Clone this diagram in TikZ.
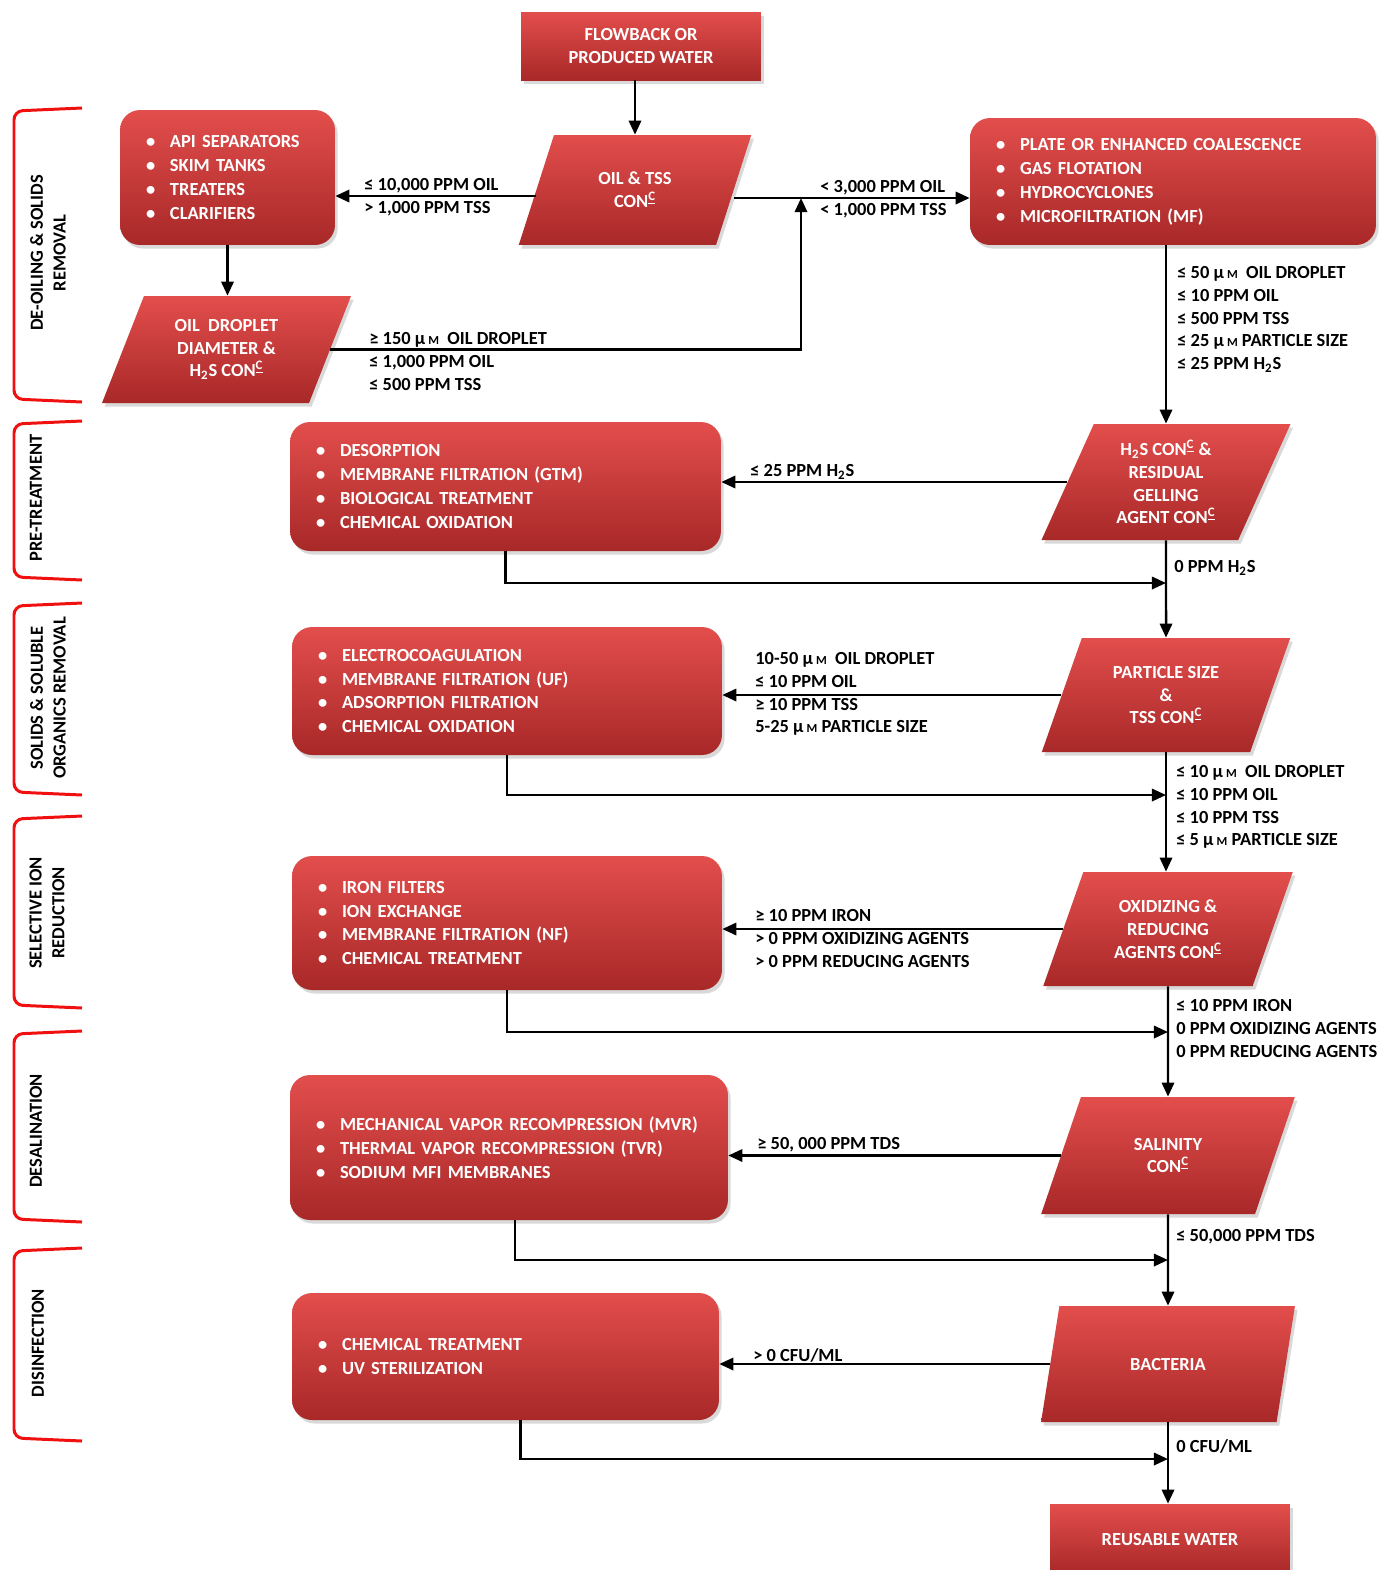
\documentclass[tikz,border=0pt]{standalone}
\usepackage{fontspec}
\setmainfont{Carlito}
\usepackage{xcolor}
\definecolor{boxtop}{RGB}{226,78,76}
\definecolor{boxbot}{RGB}{168,40,40}
\definecolor{bracered}{RGB}{240,16,16}
\usepackage{tikz}
\usetikzlibrary{positioning,arrows.meta,shapes.geometric,shadows,calc}

\newcommand{\conc}{CON\textsuperscript{\underline{C}}}
\newcommand{\um}{μ\,{\scriptsize M}}
\newcommand{\hts}{H\textsubscript{2}S}
\newcommand{\blt}{\makebox[0.48cm][l]{\textbullet}}

\begin{document}
\begin{tikzpicture}[x=0.02cm,y=-0.02cm,
  font=\bfseries\fontsize{10.5}{13}\selectfont,
  redbox/.style={rectangle,top color=boxtop,bottom color=boxbot,text=white,align=center,
    drop shadow={opacity=0.3,shadow xshift=1.5pt,shadow yshift=-2pt}},
  listbox/.style={redbox,rounded corners=0.4cm,align=left,inner xsep=0.52cm,
    font=\bfseries\fontsize{10.5}{13.6}\selectfont},
  databox/.style={redbox,shape=trapezium,trapezium left angle=67,trapezium right angle=113,
    trapezium stretches=true,inner sep=1pt},
  lbl/.style={anchor=north west,align=left,inner sep=0pt},
  flow/.style={line width=1.4pt,-{Triangle[length=8pt,width=7pt]}},
  brk/.style={bracered,line width=1.7pt,rounded corners=5pt},
  brklbl/.style={rotate=90,align=center}]
\useasboundingbox (0,0) rectangle (1398,1570);

% stages on the left
\foreach \t/\b in {108/402,421/580,603/795,816/1008,1031/1222,1248/1441}
  \draw[brk] (82,\t) -- (14,\t+3) -- (14,\b-3) -- (82,\b);
\node[brklbl] (s1) at (48,253) {DE-OILING \& SOLIDS\\REMOVAL};
\node[brklbl] (s2) at (36,498) {PRE-TREATMENT};
\node[brklbl] (s3) at (48,698) {SOLIDS \& SOLUBLE\\ORGANICS REMOVAL};
\node[brklbl] (s4) at (47,913) {SELECTIVE ION\\REDUCTION};
\node[brklbl] (s5) at (36,1131) {DESALINATION};
\node[brklbl] (s6) at (38,1343) {DISINFECTION};

% boxes
\node[redbox,minimum width=4.8cm,minimum height=1.36cm] (src) at (641,46) {FLOWBACK OR\\PRODUCED WATER};
\node[databox,minimum width=4.68cm,minimum height=2.2cm] (oiltss) at (635,190) {OIL \& TSS\\\conc};
\node[listbox,text width=3.26cm,minimum height=2.7cm] (api) at (227.5,177.5)
  {\blt API SEPARATORS\\\blt SKIM TANKS\\\blt TREATERS\\\blt CLARIFIERS};
\node[listbox,text width=7.08cm,minimum height=2.54cm] (plate) at (1173,181.5)
  {\blt PLATE OR ENHANCED COALESCENCE\\\blt GAS FLOTATION\\\blt HYDROCYCLONES\\\blt MICROFILTRATION (MF)};
\node[databox,minimum width=5.02cm,minimum height=2.14cm] (drop) at (226.5,349.5) {OIL\ \ DROPLET\\DIAMETER \&\\\hts\ \conc};
\node[databox,minimum width=5cm,minimum height=2.32cm] (h2s) at (1166,482) {\hts\ \conc\ \&\\RESIDUAL\\GELLING\\AGENT \conc};
\node[listbox,text width=7.58cm,minimum height=2.58cm] (desorp) at (505.5,486.5)
  {\blt DESORPTION\\\blt MEMBRANE FILTRATION (GTM)\\\blt BIOLOGICAL TREATMENT\\\blt CHEMICAL OXIDATION};
\node[databox,minimum width=5cm,minimum height=2.28cm] (psize) at (1166,695) {PARTICLE SIZE\\\&\\TSS \conc};
\node[listbox,text width=7.56cm,minimum height=2.56cm] (electro) at (507,691)
  {\blt ELECTROCOAGULATION\\\blt MEMBRANE FILTRATION (UF)\\\blt ADSORPTION FILTRATION\\\blt CHEMICAL OXIDATION};
\node[databox,minimum width=5cm,minimum height=2.28cm] (oxid) at (1168,929) {OXIDIZING \&\\REDUCING\\AGENTS \conc};
\node[listbox,text width=7.56cm,minimum height=2.68cm] (iron) at (507,923)
  {\blt IRON FILTERS\\\blt ION EXCHANGE\\\blt MEMBRANE FILTRATION (NF)\\\blt CHEMICAL TREATMENT};
\node[databox,minimum width=5.08cm,minimum height=2.34cm] (salt) at (1168,1155.5) {SALINITY\\\conc};
\node[listbox,text width=7.72cm,minimum height=2.9cm] (mvr) at (509,1147.5)
  {\blt MECHANICAL VAPOR RECOMPRESSION (MVR)\\\blt THERMAL VAPOR RECOMPRESSION (TVR)\\\blt SODIUM MFI MEMBRANES};
\node[databox,minimum width=5.08cm,minimum height=2.32cm] (bact) at (1168,1364) {BACTERIA};
\node[listbox,text width=7.5cm,minimum height=2.54cm] (uv) at (505.5,1356.5)
  {\blt CHEMICAL TREATMENT\\\blt UV STERILIZATION};
\node[redbox,minimum width=4.8cm,minimum height=1.4cm] (reuse) at (1170,1539) {REUSABLE WATER};

% connectors
\coordinate (ow) at ($(oiltss.west)+(0,6)$);
\coordinate (oe) at ($(oiltss.east)+(0,8)$);
\coordinate (merge0) at (801,198);
\draw[flow] (oiltss.north |- src.south) -- (oiltss.north);
\draw[flow] (ow) -- (ow -| api.east);
\draw[flow] (oe) -- (oe -| plate.west);
\draw[flow] (api.south) -- (api.south |- drop.north);
\draw[flow] (drop.east) -| (merge0);
\draw[flow] (h2s.north |- plate.south) -- (h2s.north);
\draw[flow] (h2s.west) -- (h2s.west -| desorp.east);
\draw[flow] (h2s.south) -- (psize.north);
\coordinate (m1) at (h2s.south |- 0,583);
\draw[flow] (desorp.south) |- (m1);
\draw[flow] (psize.west) -- (psize.west -| electro.east);
\draw[flow] (psize.south) -- (psize.south |- oxid.north);
\coordinate (m2) at (psize.south |- 0,795);
\draw[flow] (electro.south) |- (m2);
\draw[flow] (oxid.west) -- (oxid.west -| iron.east);
\draw[flow] (oxid.south) -- (salt.north);
\coordinate (m3) at (oxid.south |- 0,1032);
\draw[flow] (iron.south) |- (m3);
\draw[flow] (salt.west) -- (salt.west -| mvr.east);
\draw[flow] (salt.south) -- (bact.north);
\coordinate (m4) at (salt.south |- 0,1260);
\draw[flow] ($(mvr.south)+(6,0)$) |- (m4);
\draw[flow] (bact.west) -- (bact.west -| uv.east);
\draw[flow] (bact.south) -- (bact.south |- reuse.north);
\coordinate (m5) at (bact.south |- 0,1459);
\draw[flow] ($(uv.south)+(15,0)$) |- (m5);

% limits
\node[lbl] (t1) at (364,178) {≤ 10,000 PPM OIL\\> 1,000 PPM TSS};
\node[lbl] (t2) at (820,180) {< 3,000 PPM OIL\\< 1,000 PPM TSS};
\node[lbl] (t3) at (369,332) {≥ 150 \um\ \ OIL DROPLET\\≤ 1,000 PPM OIL\\≤ 500 PPM TSS};
\node[lbl] (t4) at (1177,266) {≤ 50 \um\ \ OIL DROPLET\\≤ 10 PPM OIL\\≤ 500 PPM TSS\\≤ 25 \um\ PARTICLE SIZE\\≤ 25 PPM \hts};
\node[lbl] (t5) at (750,464) {≤ 25 PPM \hts};
\node[lbl] (t6) at (1174,560) {0 PPM \hts};
\node[lbl] (t7) at (755,652) {10-50 \um\ \ OIL DROPLET\\≤ 10 PPM OIL\\≥ 10 PPM TSS\\5-25 \um\ PARTICLE SIZE};
\node[lbl] (t8) at (1176,765) {≤ 10 \um\ \ OIL DROPLET\\≤ 10 PPM OIL\\≤ 10 PPM TSS\\≤ 5 \um\ PARTICLE SIZE};
\node[lbl] (t9) at (755,909) {≥ 10 PPM IRON\\> 0 PPM OXIDIZING AGENTS\\> 0 PPM REDUCING AGENTS};
\node[lbl] (t10) at (1176,999) {≤ 10 PPM IRON\\0 PPM OXIDIZING AGENTS\\0 PPM REDUCING AGENTS};
\node[lbl] (t11) at (757,1137) {≥ 50, 000 PPM TDS};
\node[lbl] (t12) at (1176,1229) {≤ 50,000 PPM TDS};
\node[lbl] (t13) at (753,1348) {> 0 CFU/ML};
\node[lbl] (t14) at (1176,1439) {0 CFU/ML};
\end{tikzpicture}
\end{document}
